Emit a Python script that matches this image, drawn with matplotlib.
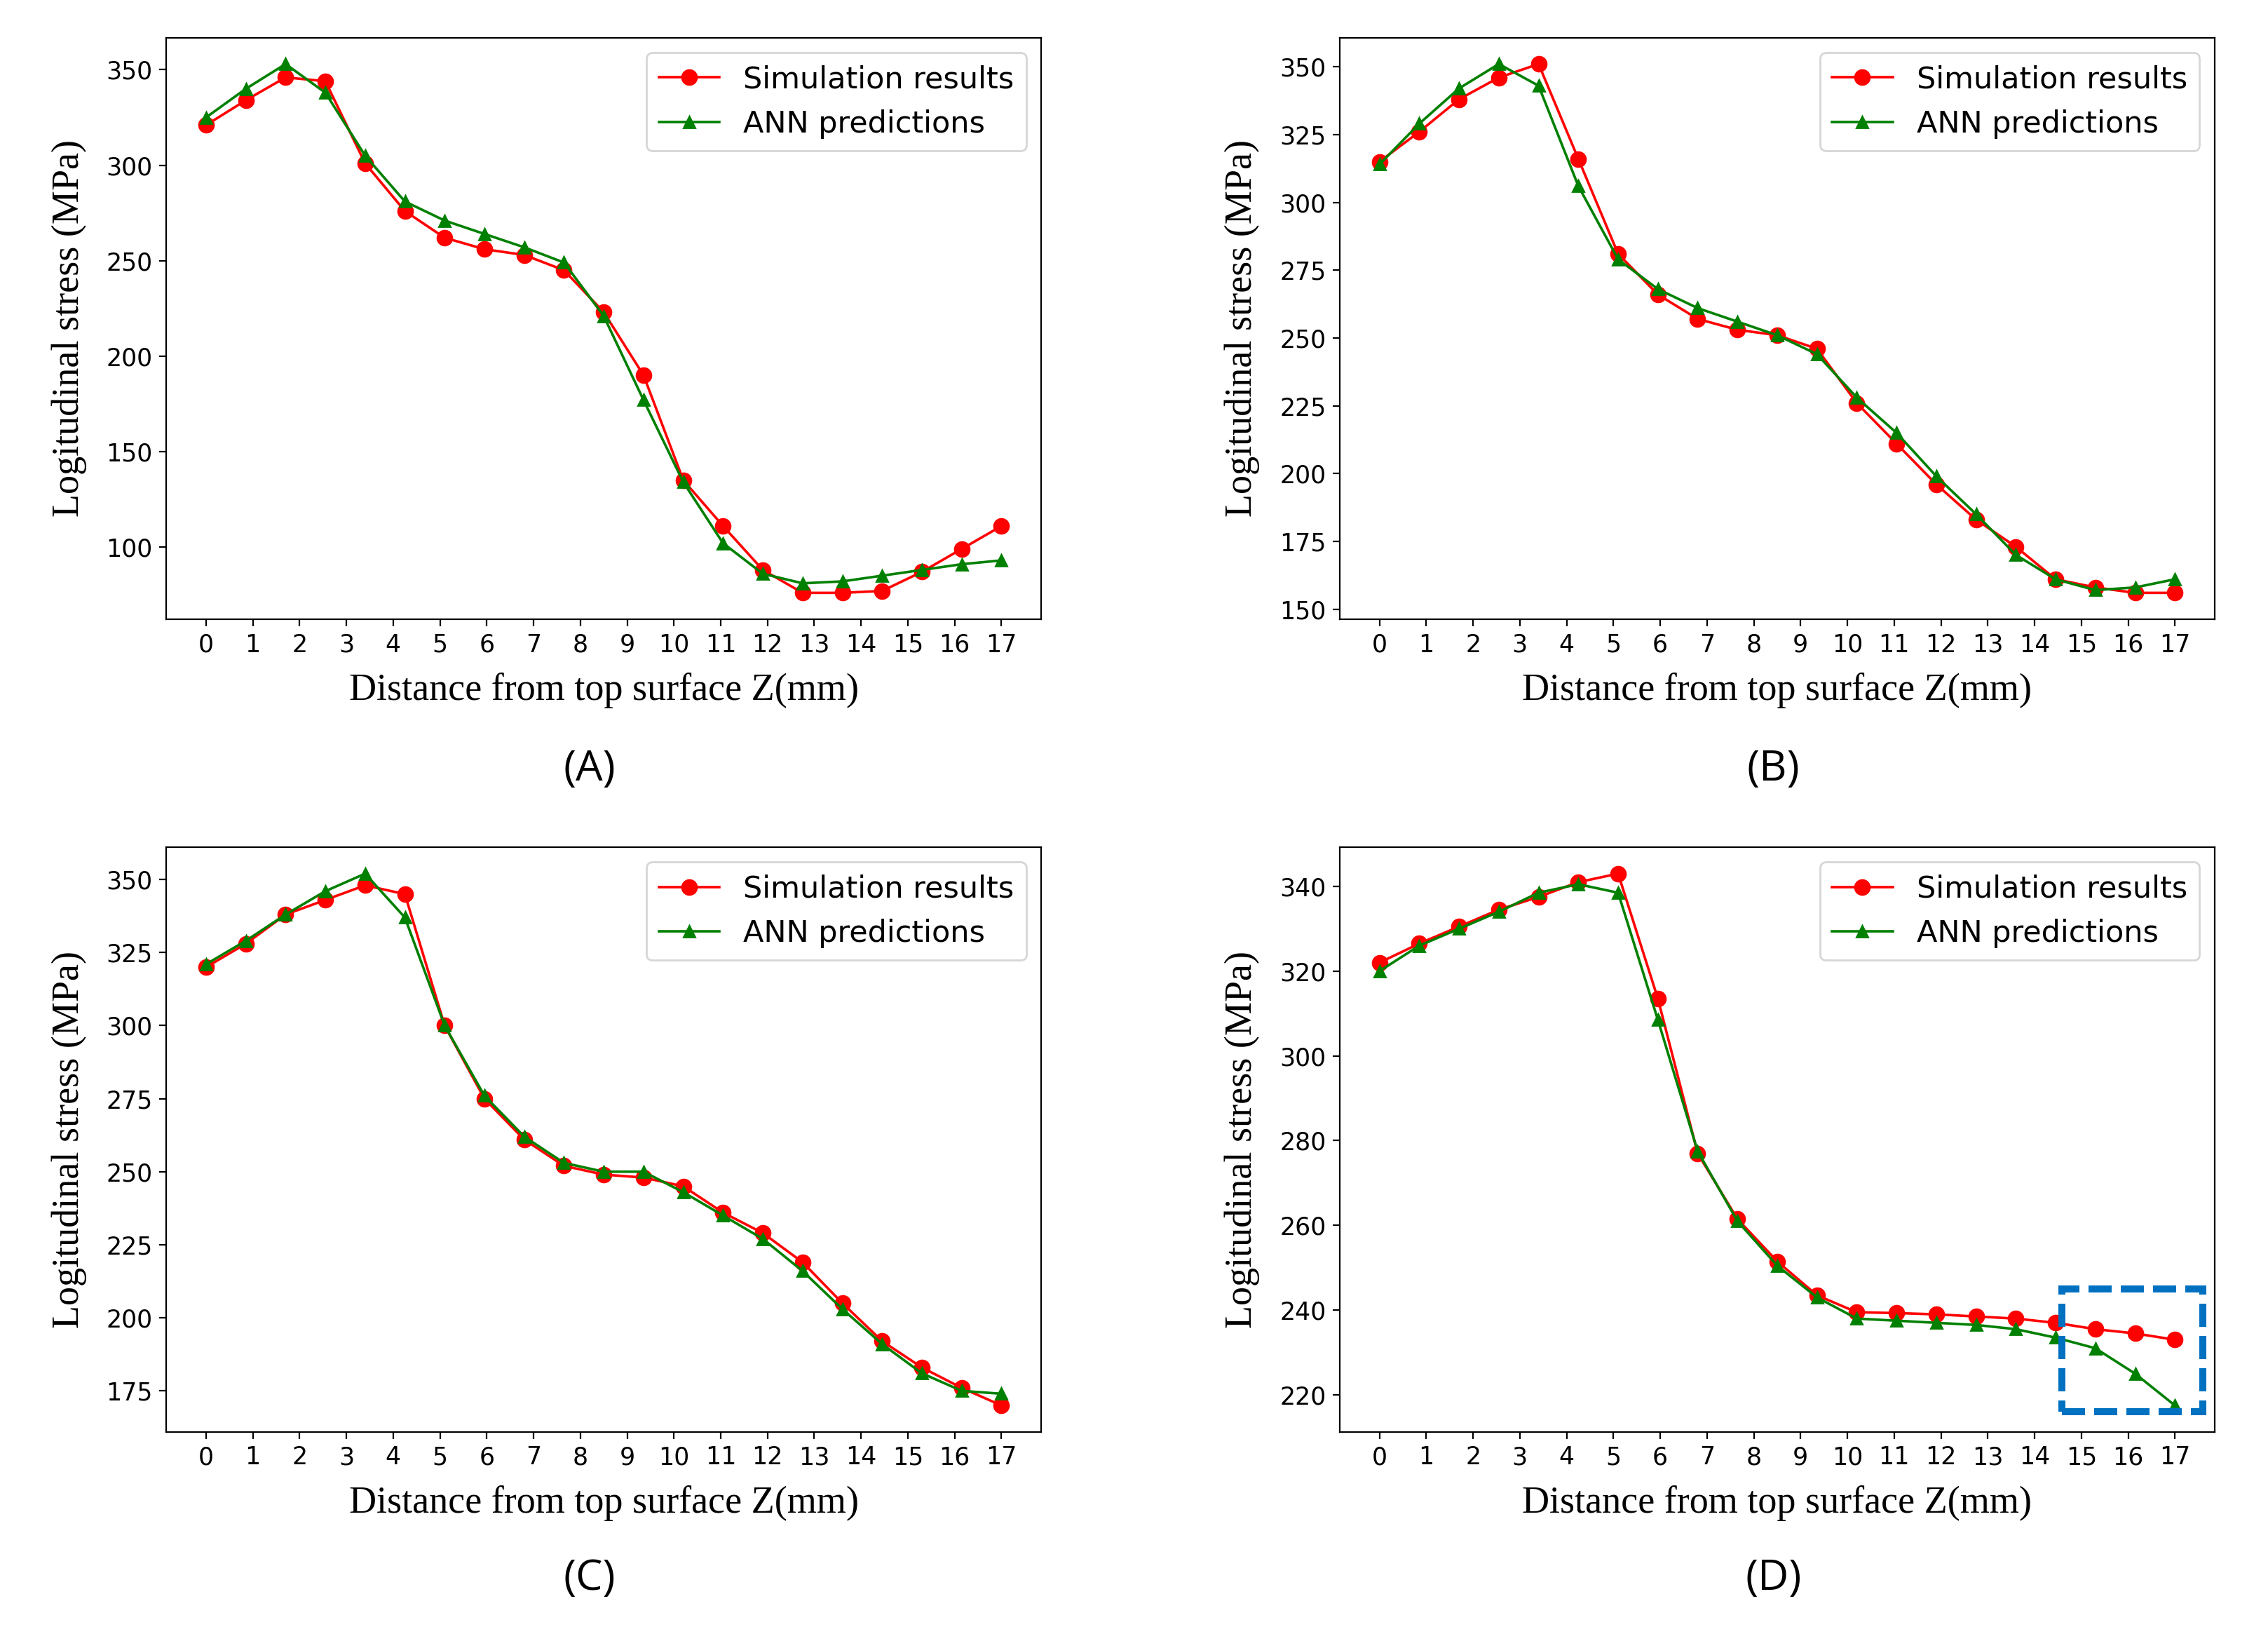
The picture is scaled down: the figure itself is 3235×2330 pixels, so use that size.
import numpy as np
import matplotlib
matplotlib.use("Agg")
import matplotlib.pyplot as plt
from matplotlib.patches import Rectangle

# 21 sampling points through the 17 mm thickness
z = np.linspace(0, 17, 21)
xticks = np.arange(0, 18)

sim_a = [321, 334, 346, 344, 301, 276, 262, 256, 253, 245, 223, 190, 135, 111, 88, 76, 76, 77, 87, 99, 111]
ann_a = [325, 340, 353, 338, 305, 281, 271, 264, 257, 249, 221, 177, 134, 102, 86, 81, 82, 85, 88, 91, 93]

sim_b = [315, 326, 338, 346, 351, 316, 281, 266, 257, 253, 251, 246, 226, 211, 196, 183, 173, 161, 158, 156, 156]
ann_b = [314, 329, 342, 351, 343, 306, 279, 268, 261, 256, 251, 244, 228, 215, 199, 185, 170, 161, 157, 158, 161]

sim_c = [320, 328, 338, 343, 348, 345, 300, 275, 261, 252, 249, 248, 245, 236, 229, 219, 205, 192, 183, 176, 170]
ann_c = [321, 329, 338, 346, 352, 337, 300, 276, 262, 253, 250, 250, 243, 235, 227, 216, 203, 191, 181, 175, 174]

sim_d = [322, 326.5, 330.5, 334.5, 337.5, 341, 343, 313.5, 277, 261.5, 251.5, 243.5, 239.5, 239.3, 239, 238.5, 238, 237, 235.5, 234.5, 233]
ann_d = [320, 326, 330, 334, 338.5, 340.5, 338.5, 308.5, 277.5, 261, 250.5, 243, 238, 237.5, 237, 236.5, 235.5, 233.5, 231, 225, 217.5]

panel_names = ["(A)", "(B)", "(C)", "(D)"]
y_ticks = [
    [100, 150, 200, 250, 300, 350],
    [150, 175, 200, 225, 250, 275, 300, 325, 350],
    [175, 200, 225, 250, 275, 300, 325, 350],
    [220, 240, 260, 280, 300, 320, 340],
]

serif = ["Liberation Serif", "DejaVu Serif"]

fig = plt.figure(figsize=(16.175, 11.65), dpi=200)

boxes = [
    [0.0733, 0.621, 0.3858, 0.356],
    [0.5907, 0.621, 0.3858, 0.356],
    [0.0733, 0.1236, 0.3858, 0.358],
    [0.5907, 0.1236, 0.3858, 0.358],
]
label_pos = [(0.260, 0.529), (0.782, 0.529), (0.260, 0.034), (0.782, 0.034)]

sims = [sim_a, sim_b, sim_c, sim_d]
anns = [ann_a, ann_b, ann_c, ann_d]

for i in range(4):
    ax = fig.add_axes(boxes[i])
    ax.plot(z, sims[i], color="red", marker="o", ms=7.5, lw=1.3, label="Simulation results")
    ax.plot(z, anns[i], color="green", marker="^", ms=6, lw=1.3, label="ANN predictions")
    ax.set_xticks(xticks)
    ax.set_yticks(y_ticks[i])
    ax.tick_params(labelsize=12.5)
    ax.set_xlabel("Distance from top surface Z(mm)", family=serif, fontsize=19.5, labelpad=8)
    ax.set_ylabel("Logitudinal stress (MPa)", family=serif, fontsize=19.5, labelpad=10)
    ax.legend(loc="upper right", fontsize=15.5)
    fig.text(label_pos[i][0], label_pos[i][1], panel_names[i], ha="center", va="center",
             fontsize=22, family=["Open Sans", "DejaVu Sans"])
    if i == 3:
        # highlight box around the last points
        ax.add_patch(Rectangle((14.59, 216.0), 3.0, 29.0, fill=False, edgecolor="#0070C0",
                               lw=3.6, linestyle=(0, (3.3, 1.3)), clip_on=False, zorder=5))

fig.savefig("out.png", dpi=200)
